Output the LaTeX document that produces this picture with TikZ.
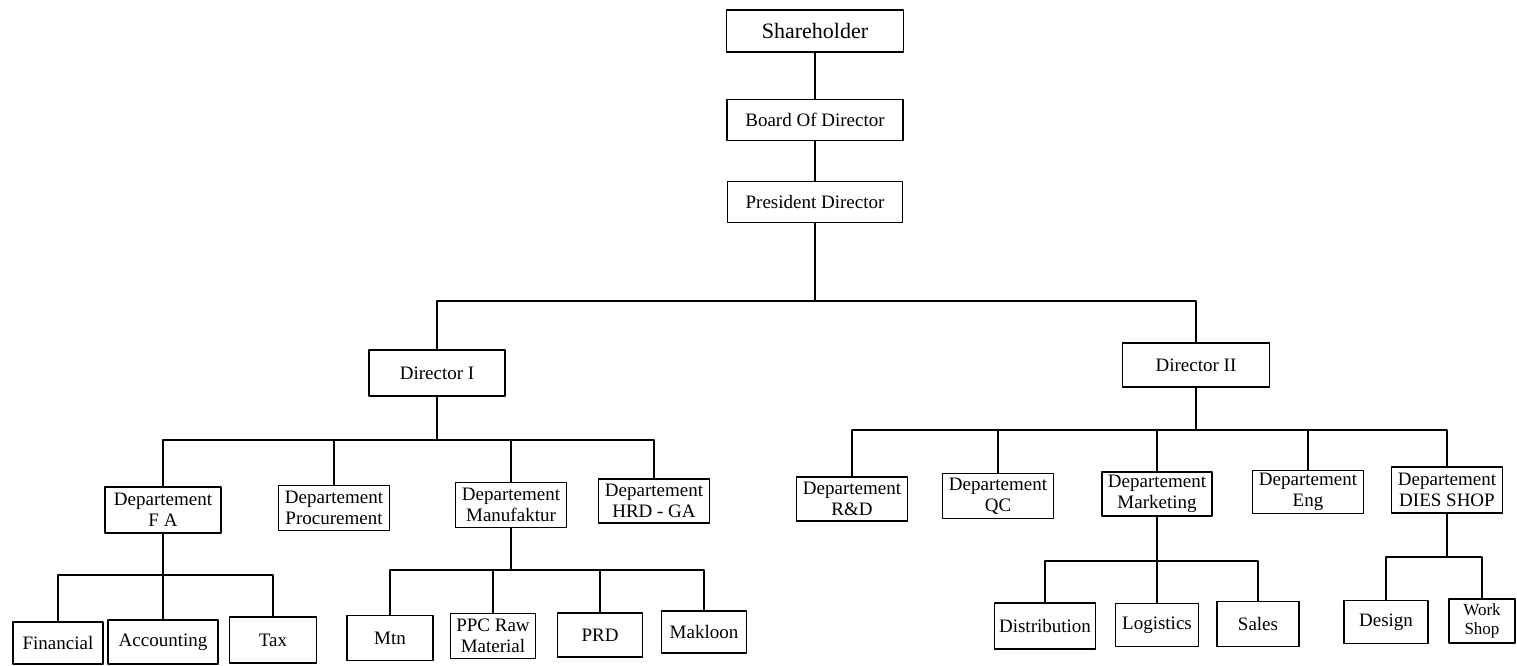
\documentclass[tikz,border=0pt]{standalone}
\usepackage{fontspec}
\setmainfont{Liberation Serif}
\begin{document}
\begin{tikzpicture}[x=1pt, y=-1pt, line width=1.5pt, line join=round,
    unit/.style={draw, align=center, inner sep=0pt, font=\fontsize{19}{21}\selectfont},
    wide/.style={minimum width=111pt, minimum height=45pt},
    leaf/.style={minimum width=85pt, minimum height=44pt}]
    \useasboundingbox (0,0) rectangle (1517,665);
    % top
    \node[unit, minimum width=177pt, minimum height=42pt, font=\fontsize{22}{24}\selectfont] (share) at (815,31) {Shareholder};
    \node[unit, minimum width=176pt, minimum height=41pt] (board) at (815,120) {Board Of Director};
    \node[unit, minimum width=175pt, minimum height=41pt] (pres) at (815,202) {President Director};
    % directors
    \node[unit, minimum width=136pt, minimum height=46pt] (dir1) at (437,373) {Director I};
    \node[unit, minimum width=147pt, minimum height=44pt] (dir2) at (1196,365) {Director II};
    % departements
    \node[unit, wide, minimum width=116pt, minimum height=46pt] (fa) at (163,510) {Departement\\F A};
    \node[unit, wide] (proc) at (334,508) {Departement\\Procurement};
    \node[unit, wide] (manu) at (511,505) {Departement\\Manufaktur};
    \node[unit, wide, minimum height=44pt] (hrd) at (654,501) {Departement\\HRD - GA};
    \node[unit, wide, minimum height=44pt] (rnd) at (852,499) {Departement\\R\&D};
    \node[unit, wide] (qc) at (998,496) {Departement\\QC};
    \node[unit, wide, minimum width=110pt, minimum height=44pt] (mkt) at (1157,494) {Departement\\Marketing};
    \node[unit, wide, minimum height=43pt] (eng) at (1308,492) {Departement\\Eng};
    \node[unit, wide, minimum height=46pt] (dies) at (1447,490) {Departement\\DIES SHOP};
    % sections
    \node[unit, leaf, minimum width=90pt, minimum height=42pt] (fin) at (58,643) {Financial};
    \node[unit, leaf, minimum width=110pt] (acc) at (163,642) {Accounting};
    \node[unit, leaf, minimum width=87pt, minimum height=46pt] (tax) at (273,640) {Tax};
    \node[unit, leaf, minimum width=86pt, minimum height=45pt] (mtn) at (390,638) {Mtn};
    \node[unit, leaf, minimum height=45pt] (ppc) at (493,636) {PPC Raw\\Material};
    \node[unit, leaf] (prd) at (600,635) {PRD};
    \node[unit, leaf, minimum height=42pt] (mak) at (704,632) {Makloon};
    \node[unit, leaf, minimum width=101pt, minimum height=46pt] (dist) at (1045,626) {Distribution};
    \node[unit, leaf, minimum width=83pt, minimum height=43pt] (log) at (1157,625) {Logistics};
    \node[unit, leaf, minimum width=82pt, minimum height=45pt] (sales) at (1258,624) {Sales};
    \node[unit, leaf, minimum width=84pt, minimum height=43pt] (design) at (1386,622) {Design};
    \node[unit, leaf, minimum width=66pt, font=\fontsize{17}{19}\selectfont] (work) at (1482,621) {Work\\Shop};
    % bars
    \coordinate (top) at (815,301);
    \coordinate (d1) at (437,440);
    \coordinate (d2) at (1196,430);
    \coordinate (g1) at (163,575);
    \coordinate (g2) at (511,570);
    \coordinate (g3) at (1157,561);
    \coordinate (g4) at (1447,557);
    % lines
    \draw (share) -- (board);
    \draw (board) -- (pres);
    \draw (pres.south) -- (top);
    \draw (dir1.north) |- (top) -| (dir2.north);
    \draw (dir1.south) -- (d1);
    \draw (fa.north) |- (d1) -| (hrd.north);
    \foreach \n in {proc,manu}
        \draw (\n.north) -- (\n.north |- d1);
    \draw (dir2.south) -- (d2);
    \draw (rnd.north) |- (d2) -| (dies.north);
    \foreach \n in {qc,mkt,eng}
        \draw (\n.north) -- (\n.north |- d2);
    \draw (fa.south) -- (g1);
    \draw (fin.north) |- (g1) -| (tax.north);
    \draw (acc.north) -- (g1);
    \draw (manu.south) -- (g2);
    \draw (mtn.north) |- (g2) -| (mak.north);
    \foreach \n in {ppc,prd}
        \draw (\n.north) -- (\n.north |- g2);
    \draw (mkt.south) -- (g3);
    \draw (dist.north) |- (g3) -| (sales.north);
    \draw (log.north) -- (g3);
    \draw (dies.south) -- (g4);
    \draw (design.north) |- (g4) -| (work.north);
\end{tikzpicture}
\end{document}
